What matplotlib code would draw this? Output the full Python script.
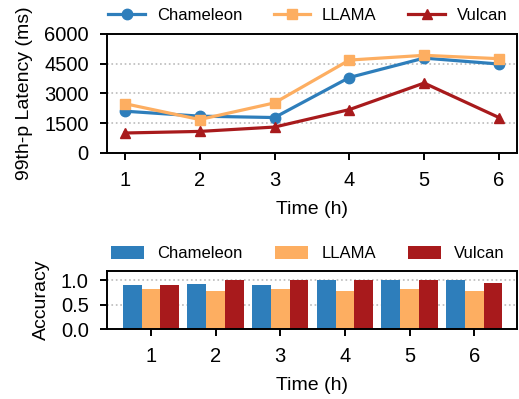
import matplotlib
matplotlib.use("Agg")
import matplotlib.pyplot as plt
import numpy as np

plt.rcParams['font.family'] = ['Liberation Sans', 'DejaVu Sans']

hours = [1, 2, 3, 4, 5, 6]
systems = ["Chameleon", "LLAMA", "Vulcan"]
colors = ["#2e7ebb", "#fdae61", "#a81a1c"]
markers = ["o", "s", "^"]

# 99th percentile latency (ms)
lat_chameleon = [2100, 1850, 1780, 3800, 4780, 4480]
lat_llama = [2480, 1680, 2520, 4680, 4920, 4750]
lat_vulcan = [1000, 1080, 1300, 2180, 3520, 1780]

# accuracy
acc_chameleon = [0.90, 0.92, 0.90, 1.00, 1.00, 1.00]
acc_llama = [0.82, 0.78, 0.82, 0.78, 0.82, 0.78]
acc_vulcan = [0.90, 1.00, 1.00, 1.00, 1.00, 0.94]

lat = [lat_chameleon, lat_llama, lat_vulcan]
acc = [acc_chameleon, acc_llama, acc_vulcan]

fig = plt.figure(figsize=(5.19, 3.99), dpi=100)
ax1 = fig.add_axes([0.206, 0.617, 0.790, 0.298])
ax2 = fig.add_axes([0.206, 0.175, 0.790, 0.147])

for ax in (ax1, ax2):
    for s in ax.spines.values():
        s.set_linewidth(1.4)
    ax.tick_params(labelsize=14.5, width=1.4, length=5, pad=8)
    ax.set_axisbelow(True)

# latency lines
for name, vals, c, m in zip(systems, lat, colors, markers):
    ax1.plot(hours, vals, color=c, marker=m, markersize=7.5, linewidth=2.3, label=name)
ax1.set_xlim(0.76, 6.24)
ax1.set_ylim(0, 6000)
ax1.set_yticks([0, 1500, 3000, 4500, 6000])
ax1.set_xticks(hours)
ax1.yaxis.grid(True, linestyle=':', color='#bbbbbb', linewidth=1.2)
ax1.set_xlabel("Time (h)", fontsize=14, labelpad=8)
ax1.set_ylabel("99th-p Latency (ms)", fontsize=14, labelpad=8)
ax1.legend(loc='center', bbox_to_anchor=(0.49, 1.155), ncol=3, frameon=False,
           fontsize=12, handlelength=2.2, handletextpad=0.7, columnspacing=1.9,
           borderaxespad=0, borderpad=0)

# accuracy bars
x = np.arange(1, 7)
w = 0.29
for i, (name, vals, c) in enumerate(zip(systems, acc, colors)):
    ax2.bar(x + (i - 1) * w, vals, width=w, color=c, label=name)
ax2.set_xlim(0.32, 6.66)
ax2.set_ylim(0, 1.2)
ax2.set_yticks([0.0, 0.5, 1.0])
ax2.set_xticks(hours)
ax2.yaxis.grid(True, linestyle=':', color='#bbbbbb', linewidth=1.2)
ax2.set_xlabel("Time (h)", fontsize=14, labelpad=8)
ax2.set_ylabel("Accuracy", fontsize=14, labelpad=8)
ax2.legend(loc='center', bbox_to_anchor=(0.49, 1.29), ncol=3, frameon=False,
           fontsize=12, handlelength=2.0, handleheight=0.8, handletextpad=0.8,
           columnspacing=1.9, borderaxespad=0, borderpad=0)

fig.savefig("out.png", dpi=100)
